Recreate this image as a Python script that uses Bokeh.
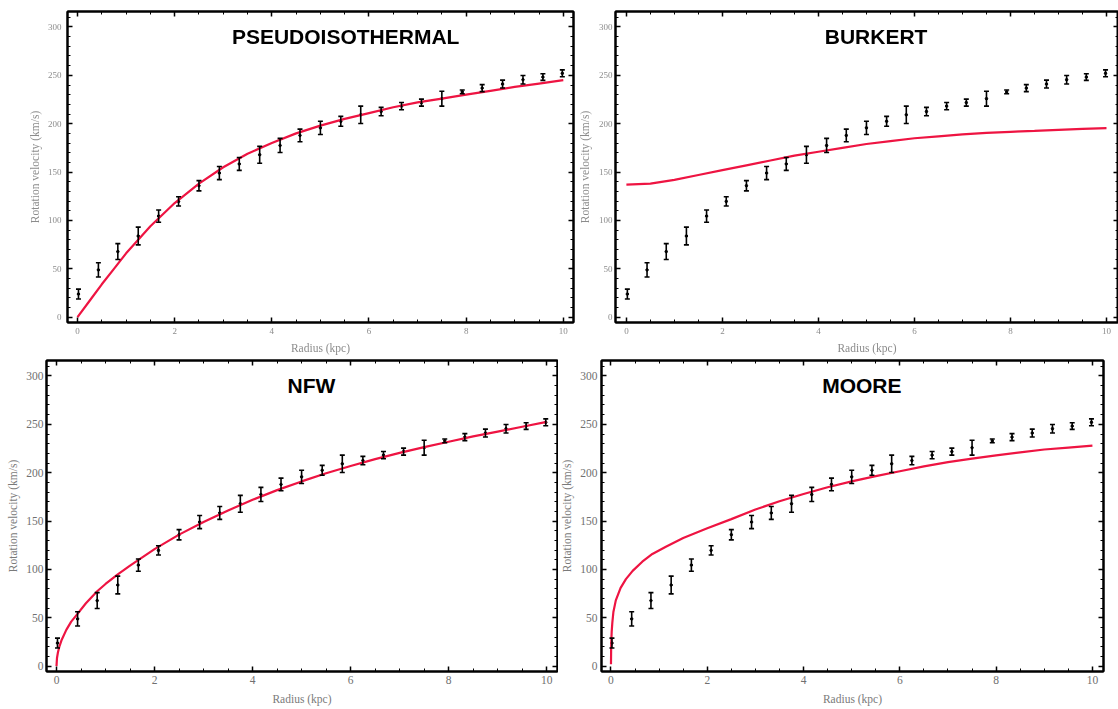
from bokeh.plotting import figure
from bokeh.models import (Range1d, FixedTicker, LinearAxis, Whisker, TeeHead,
                          ColumnDataSource, Label)
from bokeh.layouts import column, row
from bokeh.embed import file_html
from bokeh.resources import INLINE

# Observed rotation curve (radius in kpc, velocity and error in km/s)
radius = [0.02, 0.43, 0.83, 1.25, 1.67, 2.08, 2.50, 2.92, 3.33, 3.75, 4.17, 4.58,
          5.00, 5.42, 5.83, 6.25, 6.67, 7.08, 7.50, 7.92, 8.33, 8.75, 9.17, 9.58, 9.98]
velocity = [23.9, 48.9, 67.8, 83.9, 104.5, 119.7, 135.9, 149.0, 158.4, 167.9, 177.5,
            187.9, 195.7, 202.5, 209.2, 212.6, 218.2, 221.8, 225.9, 232.9, 236.8,
            241.0, 245.5, 248.2, 252.1]
error = [5.1, 7.3, 8.2, 9.2, 6.3, 4.8, 5.3, 6.8, 6.6, 8.7, 7.3, 6.5, 6.8, 5.1, 9.0,
         4.3, 3.7, 3.6, 7.7, 2.0, 3.6, 4.1, 4.4, 3.4, 3.6]

# Fitted halo models, sampled along the radius
piso_r = [0, 0.25, 0.5, 0.75, 1, 1.5, 2, 2.5, 3, 3.5, 4, 4.5, 5, 5.5, 6, 6.5, 7,
          7.5, 8, 8.5, 9, 9.5, 10]
piso_v = [0, 17, 34, 50, 66, 94, 118, 138, 155, 169, 180, 190, 198, 205, 211, 217,
          222, 226, 230, 234, 238, 241.5, 245]

burkert_r = [0, 0.5, 1, 1.5, 2, 2.5, 3, 3.5, 4, 4.5, 5, 5.5, 6, 6.5, 7, 7.5, 8,
             8.5, 9, 9.5, 10]
burkert_v = [137, 138, 142, 147, 152, 157, 162, 167, 171, 175, 179, 182, 185, 187,
             189, 190.5, 191.6, 192.6, 193.7, 194.7, 195.4]

nfw_r = [0, 0.01, 0.03, 0.06, 0.1, 0.2, 0.3, 0.42, 0.6, 0.83, 1.0, 1.25, 1.5, 2.0,
         2.5, 3.0, 3.5, 4.0, 4.5, 5.0, 5.5, 6.0, 6.5, 7.0, 7.5, 8.0, 8.5, 9.0, 9.5, 10.0]
nfw_v = [0, 8.5, 14.5, 20.5, 26.5, 37.5, 46, 53.5, 65, 77.5, 85, 95, 104, 121, 136,
         149, 161, 172, 182, 191, 199.5, 207, 214, 220.5, 226.5, 232, 237.5, 242.5,
         247.5, 252.5]

moore_r = [0, 0.003, 0.007, 0.015, 0.028, 0.05, 0.1, 0.2, 0.31, 0.45, 0.65, 0.86,
           1.14, 1.5, 2.0, 2.5, 3.0, 3.5, 4.0, 4.5, 5.0, 5.5, 6.0, 6.5, 7.0, 7.5,
           8.0, 8.5, 9.0, 9.5, 10.0]
moore_v = [2, 17, 26, 36, 45, 56, 68, 81, 90, 98.5, 108, 116, 123.5, 132.5, 142.5,
           152, 162, 170.5, 178, 185, 191, 196.5, 201.5, 206.5, 211, 214.5, 218,
           221, 224, 226, 228]

x_ticks = [0, 2, 4, 6, 8, 10]
x_minor = [i * 0.5 for i in range(0, 21)]
y_ticks = [0, 50, 100, 150, 200, 250, 300]
y_minor = list(range(0, 311, 10))

RED = "#ee1442"
SERIF = "Liberation Serif"


def style_axis(ax, ticker, font_size, color, standoff, show_labels=True):
    ax.ticker = ticker
    ax.axis_line_color = "black"
    ax.axis_line_width = 2
    ax.major_tick_in = 5
    ax.major_tick_out = 0
    ax.minor_tick_in = 3
    ax.minor_tick_out = 0
    ax.major_tick_line_color = "black"
    ax.major_tick_line_width = 1.5
    ax.minor_tick_line_color = "black"
    ax.minor_tick_line_width = 1
    ax.major_label_text_font = SERIF
    if show_labels:
        ax.major_label_text_color = color
        ax.major_label_text_font_size = font_size
        ax.major_label_standoff = standoff
    else:
        # frame-only axis: ticks on the opposite edge, no numbers
        ax.major_label_text_color = None
        ax.major_label_text_font_size = "0px"
        ax.major_label_standoff = 0


def panel(name, name_x, curve_r, curve_v, width, height, borders, x_range,
          tick_size, tick_color, label_color, xs, ys, ax_lab_x, ax_lab_y, blur=False):
    left, right, top, bottom = borders
    p = figure(width=width, height=height, x_range=Range1d(*x_range),
               y_range=Range1d(-5.5, 316), output_backend="svg",
               toolbar_location=None, min_border_left=left, min_border_right=right,
               min_border_top=top, min_border_bottom=bottom,
               x_axis_label="Radius (kpc)", y_axis_label="Rotation velocity (km/s)")
    p.xgrid.visible = False
    p.ygrid.visible = False
    p.outline_line_color = "black"
    p.outline_line_width = 2
    p.background_fill_color = "white"
    p.border_fill_color = "white"

    xt = FixedTicker(ticks=x_ticks, minor_ticks=x_minor)
    yt = FixedTicker(ticks=y_ticks, minor_ticks=y_minor)
    for ax in p.xaxis:
        style_axis(ax, xt, tick_size, tick_color, xs)
        ax.axis_label_text_font = SERIF
        ax.axis_label_text_font_style = "normal"
        ax.axis_label_text_font_size = "11.5px"
        ax.axis_label_text_color = label_color
        ax.axis_label_standoff = ax_lab_x
    for ax in p.yaxis:
        style_axis(ax, yt, tick_size, tick_color, ys)
        ax.axis_label_text_font = SERIF
        ax.axis_label_text_font_style = "normal"
        ax.axis_label_text_font_size = "11.5px"
        ax.axis_label_text_color = label_color
        ax.axis_label_standoff = ax_lab_y

    top_ax = LinearAxis()
    style_axis(top_ax, xt, tick_size, tick_color, 0, show_labels=False)
    p.add_layout(top_ax, "above")
    right_ax = LinearAxis()
    style_axis(right_ax, yt, tick_size, tick_color, 0, show_labels=False)
    p.add_layout(right_ax, "right")

    src = ColumnDataSource(dict(
        x=radius, y=velocity,
        lower=[v - e for v, e in zip(velocity, error)],
        upper=[v + e for v, e in zip(velocity, error)]))
    p.add_layout(Whisker(base="x", lower="lower", upper="upper", source=src,
                         dimension="height", line_color="black", line_width=1.6,
                         level="glyph",
                         lower_head=TeeHead(size=5, line_color="black", line_width=1.6),
                         upper_head=TeeHead(size=5, line_color="black", line_width=1.6)))
    p.scatter("x", "y", source=src, size=2.5, color="black")

    p.line(curve_r, curve_v, line_color=RED, line_width=2.2)

    p.add_layout(Label(x=name_x, y=290, text=name, text_font="Liberation Sans",
                       text_font_style="bold", text_font_size="21px",
                       text_align="center", text_baseline="middle",
                       text_color="black"))
    if blur:
        p.styles = {"filter": "blur(0.5px)"}
    return p


p_piso = panel("PSEUDOISOTHERMAL", 5.52, piso_r, piso_v, 575, 356, (67, 2, 9, 33),
               (-0.206, 10.21), "9px", "#8c8c8c", "#8c8c8c", 5, 6, 5, 4, blur=True)
p_burk = panel("BURKERT", 5.2, burkert_r, burkert_v, 543, 356, (35, 0, 11, 33),
               (-0.227, 10.25), "9px", "#8c8c8c", "#8c8c8c", 5, 3, 5, 5, blur=True)
p_nfw = panel("NFW", 5.2, nfw_r, nfw_v, 558, 353, (46, 1, 0, 38),
              (-0.204, 10.22), "11.5px", "#707070", "#7a7a7a", 4, 3, 6, 4)
p_moore = panel("MOORE", 5.21, moore_r, moore_v, 560, 353, (40, 15, 4, 38),
                (-0.197, 10.23), "11.5px", "#707070", "#7a7a7a", 4, 4, 6, 4)

layout = column(row(p_piso, p_burk, spacing=0), row(p_nfw, p_moore, spacing=0),
                spacing=0)

open("out.html", "w").write(file_html(layout, INLINE))
